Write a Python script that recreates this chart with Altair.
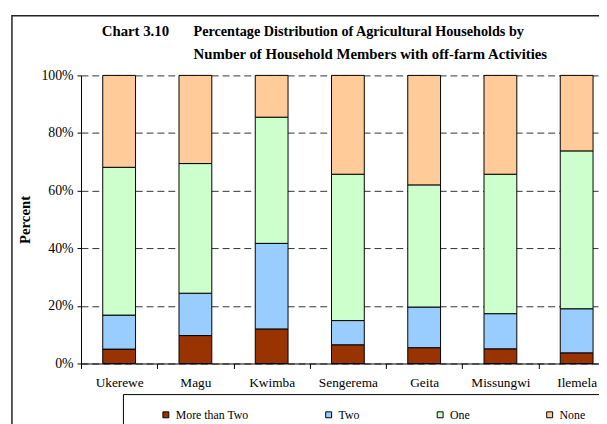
import altair as alt
import pandas as pd

districts = ["Ukerewe", "Magu", "Kwimba", "Sengerema", "Geita", "Missungwi", "Ilemela"]
categories = ["More than Two", "Two", "One", "None"]
more_than_two = [5.0, 9.7, 12.0, 6.5, 5.5, 5.1, 3.7]
two = [11.8, 14.7, 29.7, 8.4, 14.1, 12.2, 15.3]
one = [51.3, 45.0, 43.8, 50.8, 42.4, 48.4, 54.8]
none_ = [31.9, 30.6, 14.5, 34.3, 38.0, 34.3, 26.2]
colors = ["#993300", "#99CCFF", "#CCFFCC", "#FFCC99"]

rows = []
for i, d in enumerate(districts):
    for k, (c, series) in enumerate(zip(categories, [more_than_two, two, one, none_])):
        rows.append({"District": d, "Members": c, "Percent": series[i], "ord": k})
df = pd.DataFrame(rows)

FONT = "Liberation Serif"
W, H = 525, 292
XRANGE = 541

bars = alt.Chart(df).mark_bar(width={"band": 0.43}, stroke="black", strokeWidth=1).encode(
    x=alt.X("District:N", sort=districts, title=None,
            scale=alt.Scale(range=[0, XRANGE], paddingInner=0, paddingOuter=0),
            axis=alt.Axis(labelAngle=0, tickBand="extent", tickSize=5, labelPadding=7,
                          domainColor="black", tickColor="black", labelFont=FONT,
                          labelFontSize=13.5, labelColor="black", grid=False)),
    y=alt.Y("Percent:Q", stack="zero", title="Percent",
            scale=alt.Scale(domain=[0, 100], nice=False),
            axis=alt.Axis(values=[0, 20, 40, 60, 80, 100], labelExpr="datum.value + '%'",
                          tickSize=4, labelPadding=4, domainColor="black", tickColor="black",
                          labelFont=FONT, labelFontSize=14, labelColor="black",
                          titleFont=FONT, titleFontSize=15, titleFontWeight="bold",
                          titleColor="black", titlePadding=9,
                          grid=True, gridDash=[7, 4], gridColor="#333", gridWidth=1)),
    color=alt.Color("Members:N", sort=categories,
                    scale=alt.Scale(domain=categories, range=colors),
                    legend=alt.Legend(title=None, orient="none", legendX=80, legendY=338,
                                      direction="horizontal", columns=4, gridAlign="none",
                                      columnPadding=75, symbolType="square", symbolSize=36,
                                      symbolStrokeColor="black", symbolStrokeWidth=1,
                                      labelFont=FONT, labelFontSize=12, labelColor="black",
                                      labelOffset=4, padding=0)),
    order=alt.Order("ord:Q", sort="ascending"),
)

one_row = pd.DataFrame({"a": [0]})

border = alt.Chart(one_row).mark_rect(fill=None, stroke="#222", strokeWidth=1.5).encode(
    x=alt.value(-70), x2=alt.value(620), y=alt.value(-60.5), y2=alt.value(420))

legend_box = alt.Chart(one_row).mark_rect(fill=None, stroke="black", strokeWidth=1).encode(
    x=alt.value(43), x2=alt.value(620), y=alt.value(323.5), y2=alt.value(420))

t_chart = alt.Chart(one_row).mark_text(text="Chart 3.10", font=FONT, fontSize=15,
                                       fontWeight="bold", align="left", baseline="alphabetic",
                                       color="black").encode(
    x=alt.value(21), y=alt.value(-39.5))
t_line1 = alt.Chart(one_row).mark_text(text="Percentage Distribution of Agricultural Households by",
                                       font=FONT, fontSize=14.4, fontWeight="bold", align="left",
                                       baseline="alphabetic", color="black").encode(
    x=alt.value(114), y=alt.value(-39.5))
t_line2 = alt.Chart(one_row).mark_text(text="Number of Household Members with off-farm Activities",
                                       font=FONT, fontSize=15, fontWeight="bold", align="left",
                                       baseline="alphabetic", color="black").encode(
    x=alt.value(114), y=alt.value(-17))

chart = alt.layer(border, legend_box, bars, t_chart, t_line1, t_line2).properties(
    width=W, height=H,
    autosize=alt.AutoSizeParams(type="none"),
    padding={"left": 74, "top": 65.5, "right": 0, "bottom": 58.5},
    background="white",
).configure_view(stroke=None)

chart.save("out.html", embed_options={"renderer": "svg", "actions": False})
